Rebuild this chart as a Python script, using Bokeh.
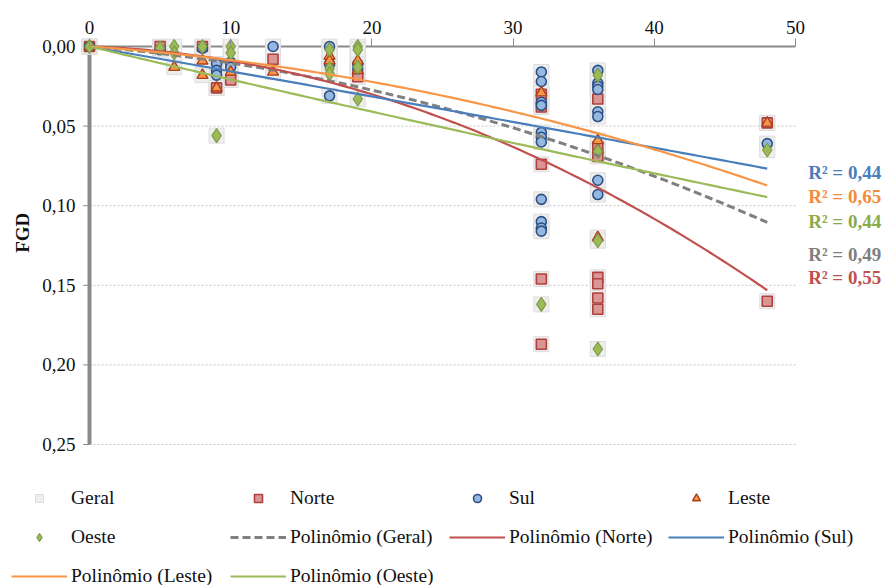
import numpy as np
from bokeh.plotting import figure
from bokeh.models import Range1d, FixedTicker, Legend, LegendItem, ColumnDataSource
from bokeh.core.properties import value
from bokeh.embed import file_html
from bokeh.resources import INLINE

# FGD readings per region (x = time)
norte_x = [0, 5, 8, 9, 10, 13, 19, 32, 32, 32, 32, 32, 36, 36, 36, 36, 36, 36, 36, 48, 48]
norte_y = [0.000, 0.000, 0.000, 0.026, 0.021, 0.008, 0.019, 0.030, 0.038, 0.074, 0.146, 0.187,
           0.033, 0.063, 0.069, 0.145, 0.149, 0.158, 0.165, 0.048, 0.160]

sul_x = [0, 5, 8, 9, 9, 9, 10, 10, 13, 17, 17, 17, 19, 19,
         32, 32, 32, 32, 32, 32, 32, 32, 32, 32, 32,
         36, 36, 36, 36, 36, 36, 36, 36, 48]
sul_y = [0.000, 0.002, 0.001, 0.011, 0.015, 0.018, 0.010, 0.013, 0.000, 0.000, 0.011, 0.031, 0.011, 0.014,
         0.016, 0.022, 0.035, 0.037, 0.054, 0.057, 0.060, 0.096, 0.110, 0.114, 0.116,
         0.015, 0.023, 0.025, 0.027, 0.041, 0.044, 0.084, 0.093, 0.061]

leste_x = [0, 6, 8, 8, 9, 10, 13, 17, 17, 19, 19, 32, 36, 36, 36, 48]
leste_y = [0.000, 0.013, 0.009, 0.018, 0.026, 0.016, 0.016, 0.006, 0.009, 0.009, 0.015,
           0.029, 0.059, 0.065, 0.120, 0.048]

oeste_x = [0, 5, 6, 6, 8, 9, 10, 10, 17, 17, 17, 19, 19, 19, 19, 32, 36, 36, 36, 36, 48]
oeste_y = [0.000, 0.001, 0.000, 0.004, 0.000, 0.056, 0.000, 0.004, 0.002, 0.014, 0.017,
           0.000, 0.002, 0.013, 0.033, 0.162, 0.018, 0.066, 0.122, 0.190, 0.065]

# "Geral" pools every region
geral_x = norte_x + sul_x + leste_x + oeste_x
geral_y = norte_y + sul_y + leste_y + oeste_y

# second-order trendlines through the origin: y = c1*x + c2*x^2
poly_geral = [0.000704, 0.0000333]
poly_norte = [0.000295, 0.0000603]
poly_sul = [0.00155, 0.0000010]
poly_leste = [0.000604, 0.0000253]
poly_oeste = [0.00210, -0.0000027]
r2_labels = {"Sul": "0,44", "Leste": "0,65", "Oeste": "0,44", "Geral": "0,49", "Norte": "0,55"}

x_ticks = [0, 10, 20, 30, 40, 50]
y_ticks = [0.00, 0.05, 0.10, 0.15, 0.20, 0.25]
y_tick_labels = ["0,00", "0,05", "0,10", "0,15", "0,20", "0,25"]
X_END = 48

SERIF = "Liberation Serif"
AXIS_GREY = "#8a8a8a"
TEXT = "#111111"

# One frame spans the whole page below the top axis, so the vertical axis,
# the R² notes and the legend are all drawn inside it.
p = figure(width=892, height=585, output_backend="svg", toolbar_location=None,
           x_range=Range1d(-6.303, 56.87), y_range=Range1d(0.33857, -0.005025),
           x_axis_location="above", y_axis_location=None,
           min_border=0, min_border_top=38,
           background_fill_color="white", border_fill_color="white")
p.outline_line_color = None
p.xgrid.grid_line_color = None
p.ygrid.grid_line_color = None

# top axis (library axis)
ax = p.xaxis[0]
ax.ticker = FixedTicker(ticks=x_ticks)
ax.axis_line_color = None
ax.major_tick_out = 0
ax.major_tick_in = 8
ax.minor_tick_in = 0
ax.minor_tick_out = 0
ax.major_tick_line_color = AXIS_GREY
ax.major_label_text_font = SERIF
ax.major_label_text_font_size = "19px"
ax.major_label_text_color = TEXT
ax.major_label_standoff = 5

# horizontal gridlines over the x span
grid_vals = y_ticks[1:]
p.segment(x0=[x_ticks[0]] * len(grid_vals), y0=grid_vals,
          x1=[x_ticks[-1]] * len(grid_vals), y1=grid_vals,
          line_color="#c4c4c4", line_width=1, line_dash="2 2")

# vertical axis: line, ticks, labels and title
p.segment(x0=[0], y0=[y_ticks[0]], x1=[0], y1=[y_ticks[-1]], line_color=AXIS_GREY, line_width=4)
p.segment(x0=[-0.45] * len(y_ticks), y0=y_ticks, x1=[0] * len(y_ticks), y1=y_ticks,
          line_color=AXIS_GREY, line_width=1)
p.text(x=[-1.0] * len(y_ticks), y=y_ticks, text=y_tick_labels,
       text_font=value(SERIF), text_font_size="19px", text_color=TEXT,
       text_align="right", text_baseline="middle")
p.text(x=[-4.75], y=[0.117], text=["FGD"], angle=np.pi / 2,
       text_font=value(SERIF), text_font_style="bold", text_font_size="19px",
       text_color=TEXT, text_align="center", text_baseline="middle")

# top axis line at y = 0
p.segment(x0=[x_ticks[0]], y0=[0], x1=[x_ticks[-1]], y1=[0], line_color=AXIS_GREY, line_width=2)

# scatter series
r_geral = p.scatter(geral_x, geral_y, marker="square", size=15,
                    fill_color="#eeeeee", line_color="#dddddd", line_width=1)
r_norte = p.scatter(norte_x, norte_y, marker="square", size=10,
                    fill_color="#d99694", line_color="#b0403d", line_width=1.6)
r_sul = p.scatter(sul_x, sul_y, marker="circle", size=10,
                  fill_color="#95b8e0", line_color="#2c4f86", line_width=1.6)
r_leste = p.scatter(leste_x, leste_y, marker="triangle", size=11,
                    fill_color="#f79646", line_color="#a8401f", line_width=1.4)
r_oeste = p.scatter(oeste_x, oeste_y, marker="diamond", size=14,
                    fill_color="#9bbb59", line_color="#7f9c45", line_width=1.2)

# trendlines
xs = np.linspace(0, X_END, 120)


def curve(c):
    return c[0] * xs + c[1] * xs ** 2


t_geral = p.line(xs, curve(poly_geral), line_color="#808080", line_width=3, line_dash="8 4")
t_norte = p.line(xs, curve(poly_norte), line_color="#c0504d", line_width=2.2)
t_sul = p.line(xs, curve(poly_sul), line_color="#4a7ebb", line_width=2.2)
t_leste = p.line(xs, curve(poly_leste), line_color="#f79646", line_width=2.2)
t_oeste = p.line(xs, curve(poly_oeste), line_color="#9bbb59", line_width=2.2)

# R² notes to the right of the curves
r2_order = ["Sul", "Leste", "Oeste", "Geral", "Norte"]
r2_y = [0.0791, 0.0942, 0.1099, 0.1307, 0.1451]
r2_col = ["#4a7ebb", "#f38b3c", "#8aab4c", "#7f7f7f", "#c0504d"]
r2_src = ColumnDataSource(dict(x=[50.9] * len(r2_order), y=r2_y,
                               t=["R\u00b2 = " + r2_labels[k] for k in r2_order], c=r2_col))
p.text(x="x", y="y", text="t", text_color="c", source=r2_src,
       text_font=value(SERIF), text_font_style="bold", text_font_size="19px",
       text_align="left", text_baseline="middle")

legend = Legend(items=[
    LegendItem(label="Geral", renderers=[r_geral]),
    LegendItem(label="Norte", renderers=[r_norte]),
    LegendItem(label="Sul", renderers=[r_sul]),
    LegendItem(label="Leste", renderers=[r_leste]),
    LegendItem(label="Oeste", renderers=[r_oeste]),
    LegendItem(label="Polinômio (Geral)", renderers=[t_geral]),
    LegendItem(label="Polinômio (Norte)", renderers=[t_norte]),
    LegendItem(label="Polinômio (Sul)", renderers=[t_sul]),
    LegendItem(label="Polinômio (Leste)", renderers=[t_leste]),
    LegendItem(label="Polinômio (Oeste)", renderers=[t_oeste]),
], location=(11, -5), orientation="horizontal", ncols=4,
    glyph_width=56, glyph_height=20, label_height=28, label_width=148,
    label_standoff=4, spacing=11, padding=0, margin=0,
    border_line_color=None, background_fill_alpha=0,
    label_text_font=SERIF, label_text_font_size="19.5px", label_text_color=TEXT)
p.add_layout(legend, "center")

open("out.html", "w").write(file_html(p, INLINE))
